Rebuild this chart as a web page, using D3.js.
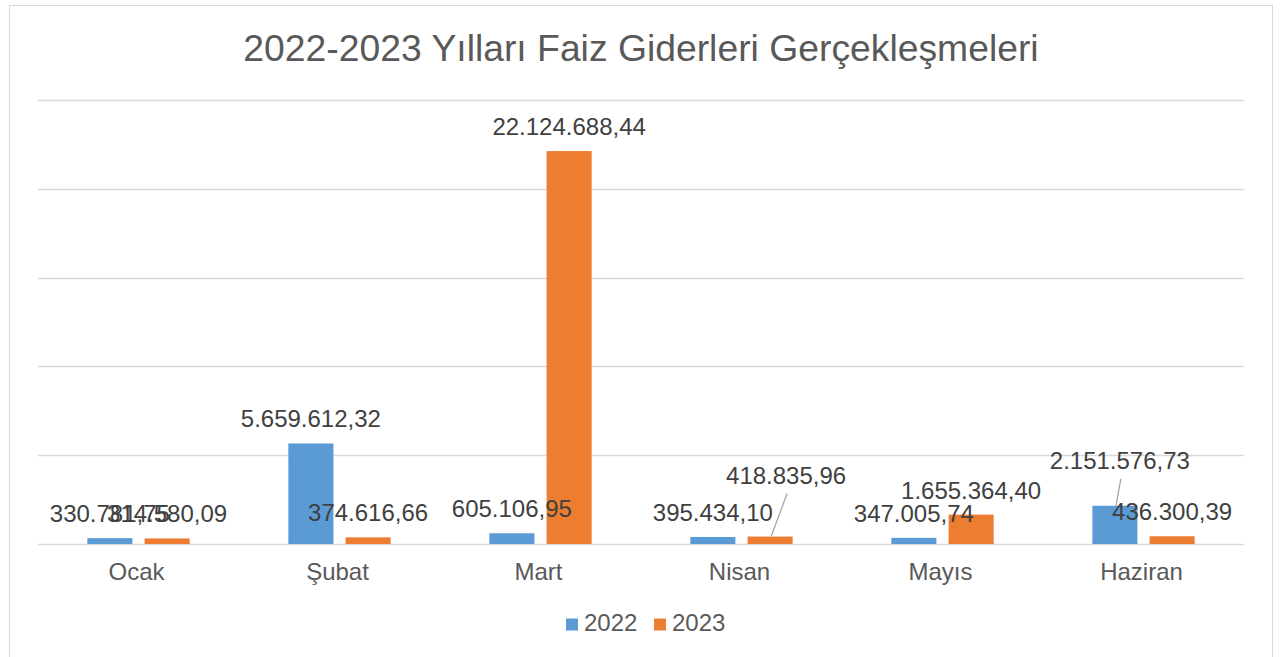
<!DOCTYPE html>
<html>
<head>
<meta charset="utf-8">
<script src="https://cdn.jsdelivr.net/npm/d3@7"></script>
<style>
  html, body { margin: 0; padding: 0; background: #ffffff; }
  svg { display: block; font-family: Arial, "Liberation Sans", sans-serif; }
</style>
</head>
<body>
<svg id="chart" width="1281" height="657"></svg>
<script>
// ---- data ----
const title = "2022-2023 Yılları Faiz Giderleri Gerçekleşmeleri";
const categories = ["Ocak", "Şubat", "Mart", "Nisan", "Mayıs", "Haziran"];
const seriesNames = ["2022", "2023"];
const values2022 = [330781.75, 5659612.32, 605106.95, 395434.10, 347005.74, 2151576.73];
const values2023 = [314580.09, 374616.66, 22124688.44, 418835.96, 1655364.40, 436300.39];
const yTicks = [0, 5000000, 10000000, 15000000, 20000000, 25000000];

// ---- style ----
const colors = { "2022": "#5B9BD5", "2023": "#ED7D31" };
const plot = { left: 38, right: 1244, top: 100, bottom: 544 };
// manually displaced labels (series, index) -> offset in px, with leader line
const labelShift = { "2023-3": { dx: 16, dy: -37 }, "2022-5": { dx: 5, dy: -21 } };

const svg = d3.select("#chart");

// border
svg.append("rect")
  .attr("x", 9.5).attr("y", 5.5)
  .attr("width", 1263).attr("height", 660)
  .attr("fill", "#fff").attr("stroke", "#D9D9D9").attr("stroke-width", 1);

// title
svg.append("text")
  .attr("x", 641).attr("y", 61)
  .attr("text-anchor", "middle")
  .attr("fill", "#595959")
  .style("font-size", "37.3px")
  .text(title);

const x0 = d3.scaleBand().domain(categories).range([plot.left, plot.right]).paddingInner(0).paddingOuter(0);
const bw = x0.bandwidth();
const w = bw / 4.46;
const x1 = d3.scaleBand().domain(seriesNames)
  .range([1.095 * w, 1.095 * w + 2.27 * w])
  .paddingInner(0.27 / 1.27).paddingOuter(0);
const y = d3.scaleLinear().domain([0, 25000000]).range([plot.bottom, plot.top]);

// gridlines
svg.append("g").selectAll("line").data(yTicks).join("line")
  .attr("x1", plot.left).attr("x2", plot.right)
  .attr("y1", d => Math.round(y(d)) + 0.5).attr("y2", d => Math.round(y(d)) + 0.5)
  .attr("stroke", "#D9D9D9").attr("stroke-width", d => d === 0 ? 1.5 : 1.5);

const rows = [];
seriesNames.forEach((s, si) => {
  const vals = si === 0 ? values2022 : values2023;
  vals.forEach((v, i) => rows.push({ s, i, cat: categories[i], v }));
});

// bars
svg.append("g").selectAll("rect").data(rows).join("rect")
  .attr("x", d => x0(d.cat) + x1(d.s))
  .attr("y", d => y(d.v))
  .attr("width", x1.bandwidth())
  .attr("height", d => y(0) - y(d.v))
  .attr("fill", d => colors[d.s]);

// x axis labels
svg.append("g").selectAll("text").data(categories).join("text")
  .attr("x", d => x0(d) + bw / 2 - 2)
  .attr("y", 580)
  .attr("text-anchor", "middle")
  .attr("fill", "#595959")
  .style("font-size", "24px")
  .text(d => d);

// data labels
const tr = d3.formatLocale({ decimal: ",", thousands: ".", grouping: [3], currency: ["", ""] });
const fmt = tr.format(",.2f");

const lab = rows.map(d => {
  const cx = x0(d.cat) + x1(d.s) + x1.bandwidth() / 2;
  const top = y(d.v);
  const sh = labelShift[d.s + "-" + d.i];
  return { ...d, cx, top, lx: cx + (sh ? sh.dx : 0), ly: top - 16 + (sh ? sh.dy : 0), shifted: !!sh };
});

svg.append("g").selectAll("line").data(lab.filter(d => d.shifted)).join("line")
  .attr("x1", d => d.lx + 1).attr("y1", d => d.ly + 10)
  .attr("x2", d => d.cx + 1).attr("y2", d => d.top)
  .attr("stroke", "#A6A6A6").attr("stroke-width", 1.3);

svg.append("g").selectAll("text").data(lab).join("text")
  .attr("x", d => d.lx).attr("y", d => d.ly)
  .attr("text-anchor", "middle")
  .attr("fill", "#404040")
  .style("font-size", "24px")
  .text(d => fmt(d.v));

// legend
const legend = svg.append("g");
const legX = [566, 654];
seriesNames.forEach((s, k) => {
  legend.append("rect").attr("x", legX[k]).attr("y", 618.5).attr("width", 12).attr("height", 12).attr("fill", colors[s]);
  legend.append("text").attr("x", legX[k] + 18).attr("y", 631).attr("fill", "#595959").style("font-size", "24px").text(s);
});
</script>
</body>
</html>
